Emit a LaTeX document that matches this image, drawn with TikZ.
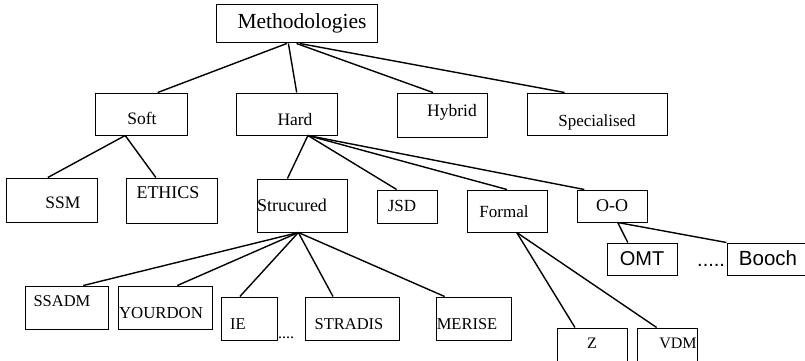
\documentclass[tikz,border=0pt]{standalone}
\usepackage{fontspec}
\setmainfont{Liberation Serif}
\newfontfamily\arialfam{Liberation Sans}
\usetikzlibrary{calc,fit}
\begin{document}
\begin{tikzpicture}[x=1pt,y=-1pt,
  box/.style={draw, line width=1pt, inner sep=0pt},
  lbl/.style={inner sep=0pt, font=\fontsize{#1}{#1}\selectfont},
  lbl/.default=17.5,
  slbl/.style={inner sep=0pt, font=\arialfam\fontsize{#1}{#1}\selectfont},
  slbl/.default=20,
  link/.style={line width=1.4pt}]
\useasboundingbox (0,0) rectangle (805,361);
\clip (0,0) rectangle (805,361);

% boxes
\node[box, fit={(216,5) (377,43)}] (meth) {};
\node[box, fit={(95,93) (187,135)}] (soft) {};
\node[box, fit={(236,93) (337,135)}] (hard) {};
\node[box, fit={(397,93) (487,137)}] (hybrid) {};
\node[box, fit={(527,93) (667,135)}] (spec) {};
\node[box, fit={(6,178) (97,222)}] (ssm) {};
\node[box, fit={(126,178) (217,223)}] (ethics) {};
\node[box, fit={(257,179) (347,232)}] (struc) {};
\node[box, fit={(377,190) (437,223)}] (jsd) {};
\node[box, fit={(467,190) (547,232)}] (formal) {};
\node[box, fit={(577,190) (647,222)}] (oo) {};
\node[box, fit={(607,243) (677,275)}] (omt) {};
\node[box, fit={(727,243) (830,275)}] (booch) {};
\node[box, fit={(25,286) (108,329)}] (ssadm) {};
\node[box, fit={(118,286) (212,329)}] (yourdon) {};
\node[box, fit={(221,297) (277,340)}] (ie) {};
\node[box, fit={(305,297) (399,340)}] (stradis) {};
\node[box, fit={(436,297) (511,340)}] (merise) {};
\node[box, fit={(557,328) (627,380)}] (z) {};
\node[box, fit={(637,328) (697,380)}] (vdm) {};

% labels
\node[lbl=21.5] (methT) at (302,23) {Methodologies};
\node[lbl] (softT) at (142,118) {Soft};
\node[lbl] (hardT) at (295,120) {Hard};
\node[lbl] (hybridT) at (452,112) {Hybrid};
\node[lbl=17] (specT) at (597,122) {Specialised};
\node[lbl] (ssmT) at (63,203) {SSM};
\node[lbl=18] (ethicsT) at (168,193) {ETHICS};
\node[lbl=18] (strucT) at (292,205) {Strucured};
\node[lbl=17] (jsdT) at (402,206) {JSD};
\node[lbl=17] (formalT) at (504,212) {Formal};
\node[lbl=18] (ooT) at (612,206) {O-O};
\node[slbl] (omtT) at (642,259) {OMT};
\node[slbl=20.5] (boochT) at (768,258) {Booch};
\node[slbl, anchor=base west] (dotsA) at (697,266) {.....};
\node[lbl=16.5] (ssadmT) at (62,301) {SSADM};
\node[lbl=16.8] (yourdonT) at (161,313) {YOURDON};
\node[lbl=16.5] (ieT) at (238,324) {IE};
\node[lbl=16, anchor=base west] (dotsB) at (278,338) {....};
\node[lbl=16.5] (stradisT) at (349,324) {STRADIS};
\node[lbl=16.5] (meriseT) at (467,324) {MERISE};
\node[lbl=16] (zT) at (592,343) {Z};
\node[lbl=16] (vdmT) at (678,343) {VDM};

% connectors
\draw[link] ($(meth.south west)!0.44!(meth.south east)$) -- ($(soft.north west)!0.68!(soft.north east)$);
\draw[link] ($(meth.south west)!0.45!(meth.south east)$) -- ($(hard.north west)!0.60!(hard.north east)$);
\draw[link] ($(meth.south west)!0.50!(meth.south east)$) -- ($(hybrid.north west)!0.40!(hybrid.north east)$);
\draw[link] ($(meth.south west)!0.52!(meth.south east)$) -- ($(spec.north west)!0.27!(spec.north east)$);

\draw[link] ($(soft.south west)!0.33!(soft.south east)$) -- ($(ssm.north west)!0.46!(ssm.north east)$);
\draw[link] ($(soft.south west)!0.33!(soft.south east)$) -- ($(ethics.north west)!0.33!(ethics.north east)$);

\draw[link] ($(hard.south west)!0.71!(hard.south east)$) -- ($(struc.north west)!0.34!(struc.north east)$);
\draw[link] ($(hard.south west)!0.71!(hard.south east)$) -- ($(jsd.north west)!0.33!(jsd.north east)$);
\draw[link] ($(hard.south west)!0.71!(hard.south east)$) -- ($(formal.north west)!0.50!(formal.north east)$);
\draw[link] ($(hard.south west)!0.71!(hard.south east)$) -- ($(oo.north west)!0.11!(oo.north east)$);

\draw[link] ($(struc.south west)!0.46!(struc.south east)$) -- ($(ssadm.north west)!0.70!(ssadm.north east)$);
\draw[link] ($(struc.south west)!0.46!(struc.south east)$) -- ($(yourdon.north west)!0.63!(yourdon.north east)$);
\draw[link] ($(struc.south west)!0.46!(struc.south east)$) -- ($(ie.north west)!0.34!(ie.north east)$);
\draw[link] ($(struc.south west)!0.46!(struc.south east)$) -- ($(stradis.north west)!0.30!(stradis.north east)$);
\draw[link] ($(struc.south west)!0.46!(struc.south east)$) -- ($(merise.north west)!0.12!(merise.north east)$);

\draw[link] ($(formal.south west)!0.62!(formal.south east)$) -- ($(z.north west)!0.26!(z.north east)$);
\draw[link] ($(formal.south west)!0.62!(formal.south east)$) -- ($(vdm.north west)!0.33!(vdm.north east)$);

\draw[link] ($(oo.south west)!0.58!(oo.south east)$) -- ($(omt.north west)!0.30!(omt.north east)$);
\draw[link] ($(oo.south west)!0.58!(oo.south east)$) -- (booch.north west);
\end{tikzpicture}
\end{document}
